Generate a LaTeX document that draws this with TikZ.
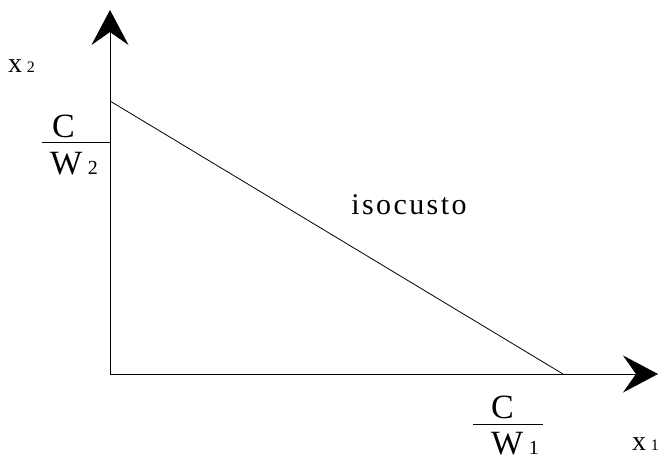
\documentclass[tikz,border=0pt]{standalone}
\usepackage{fontspec}
\setmainfont{Liberation Serif}
\usetikzlibrary{arrows.meta, positioning}

\begin{document}
\begin{tikzpicture}[
    x=1pt, y=-1pt,
    axis/.style={line width=0.8pt, -{Stealth[length=35pt, width=37pt, inset=13pt]}},
    budget/.style={line width=0.8pt},
    bar/.style={line width=0.8pt},
    varlbl/.style={inner sep=0pt, anchor=base west, font=\fontsize{28}{30}\selectfont},
    fraclbl/.style={inner sep=0pt, anchor=base west, font=\fontsize{34}{36}\selectfont}
]
\useasboundingbox (0,0) rectangle (659,463);

% Axes
\coordinate (o) at (110,374);
\coordinate (ytop) at (110,10);
\coordinate (xend) at (658,374);
\draw[axis] (o) -- (ytop);
\draw[axis] (o) -- (xend);

% Isocost line
\coordinate (a) at (110,101);
\coordinate (b) at (563,374);
\draw[budget] (a) -- (b);
\node[inner sep=0pt, font=\fontsize{30}{32}\selectfont\addfontfeatures{LetterSpace=8}] (iso) at (409,205) {isocusto};

% Axis labels
\node[varlbl] (x2) at (8,72) {x\,{\fontsize{16}{16}\selectfont 2}};
\node[varlbl] (x1) at (632,450) {x\,{\fontsize{16}{16}\selectfont 1}};

% Intercepts
\node[fraclbl] (c2) at (52,137) {C};
\coordinate (f2) at (42,142);
\draw[bar] (f2) -- (f2 -| o);
\node[fraclbl] (w2) at (50,174) {W\,{\fontsize{20}{22}\selectfont 2}};

\node[fraclbl] (c1) at (491,418) {C};
\coordinate (f1l) at (473,424);
\coordinate (f1r) at (543,424);
\draw[bar] (f1l) -- (f1r);
\node[fraclbl] (w1) at (491,454) {W\,{\fontsize{20}{22}\selectfont 1}};
\end{tikzpicture}
\end{document}
